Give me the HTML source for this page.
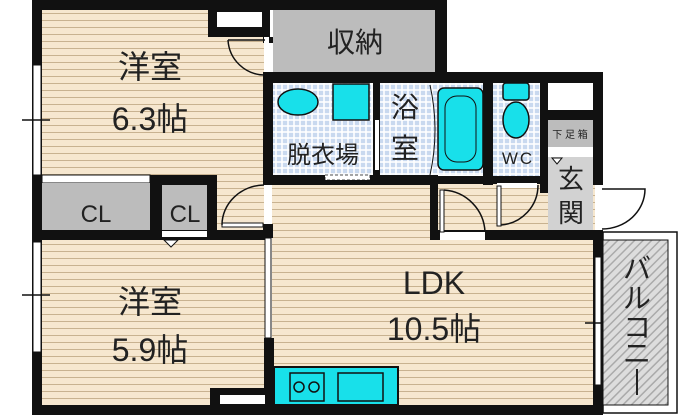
<!DOCTYPE html>
<html><head><meta charset="utf-8"><style>
html,body{margin:0;padding:0;background:#fff;width:700px;height:415px;overflow:hidden}
svg{display:block}
text{font-family:"Liberation Sans","Noto Sans CJK JP",sans-serif;fill:#222}
</style></head><body>
<svg width="700" height="415" viewBox="0 0 700 415" xmlns="http://www.w3.org/2000/svg">
<defs>
<pattern id="fl" width="8" height="7" patternUnits="userSpaceOnUse">
<rect width="8" height="7" fill="#f6e7cf"/><rect y="6" width="8" height="1.2" fill="#c8b290"/>
</pattern>
<pattern id="tl" width="6" height="6" patternUnits="userSpaceOnUse">
<rect width="6" height="6" fill="#fff"/><rect x="0.8" y="0.8" width="4.4" height="4.4" fill="#c9d9ef"/>
</pattern>
<pattern id="ht" width="6" height="6" patternUnits="userSpaceOnUse" patternTransform="rotate(45)">
<rect width="6" height="6" fill="#ddd"/><rect width="1.5" height="6" fill="#aaa"/>
</pattern>
</defs>
<rect x="42" y="10" width="222" height="222" fill="url(#fl)"/>
<rect x="42" y="240" width="223" height="167" fill="url(#fl)"/>
<rect x="272" y="183" width="323" height="224" fill="url(#fl)"/>
<rect x="32" y="0" width="415" height="10" fill="#111"/>
<rect x="32" y="0" width="10" height="415" fill="#111"/>
<rect x="32" y="405" width="571" height="10" fill="#111"/>
<rect x="33" y="65" width="8" height="110" fill="#fff" stroke="#111" stroke-width="1"/>
<rect x="33" y="242" width="8" height="110" fill="#fff" stroke="#111" stroke-width="1"/>
<line x1="22" y1="120" x2="50" y2="120" stroke="#111" stroke-width="1.5"/>
<line x1="22" y1="295" x2="50" y2="295" stroke="#111" stroke-width="1.5"/>
<rect x="208" y="10" width="62" height="27" fill="#111"/>
<rect x="217" y="12" width="45" height="15" fill="#fff"/>
<rect x="273" y="10" width="162" height="62" fill="#bcbcbc"/>
<rect x="435" y="0" width="12" height="83" fill="#111"/>
<text x="355" y="52" font-size="28" text-anchor="middle">収納</text>
<rect x="263" y="37" width="10" height="6" fill="#111"/>
<rect x="263" y="72" width="10" height="113" fill="#111"/>
<rect x="264" y="37" width="5" height="35" fill="#fff"/>
<path d="M228 40 L265 40 M228 40 A37 37 0 0 0 265 75" fill="none" stroke="#111" stroke-width="1.5"/>
<rect x="263" y="72" width="340" height="11" fill="#111"/>
<rect x="263" y="175" width="175" height="10" fill="#111"/>
<rect x="273" y="83" width="100" height="92" fill="url(#tl)"/>
<ellipse cx="298" cy="102" rx="20" ry="13" fill="#18e0ea" stroke="#111" stroke-width="1.5"/>
<rect x="333" y="84" width="36" height="36" fill="#18e0ea" stroke="#111" stroke-width="1.5"/>
<text x="323" y="163" font-size="24" text-anchor="middle">脱衣場</text>
<rect x="325" y="175" width="45" height="5" fill="#fff" stroke="#111" stroke-width="0.8" stroke-dasharray="3 2"/>
<rect x="373" y="83" width="7" height="92" fill="#111"/>
<rect x="375" y="120" width="4" height="50" fill="#fff"/>
<rect x="380" y="83" width="103" height="92" fill="url(#tl)"/>
<rect x="438" y="88" width="45" height="82" rx="6" fill="#18e0ea" stroke="#111" stroke-width="1.5"/>
<rect x="445" y="96" width="31" height="66" rx="12" fill="none" stroke="#111" stroke-width="1"/>
<path d="M430 85 Q440 130 430 175" fill="none" stroke="#111" stroke-width="1"/>
<text x="405" y="117" font-size="28" text-anchor="middle">浴</text>
<text x="405" y="158" font-size="28" text-anchor="middle">室</text>
<rect x="483" y="83" width="10" height="102" fill="#111"/>
<rect x="493" y="83" width="47" height="93" fill="url(#tl)"/>
<rect x="503" y="83" width="26" height="17" rx="3" fill="#18e0ea" stroke="#111" stroke-width="1.5"/>
<ellipse cx="516" cy="120" rx="13" ry="18" fill="#18e0ea" stroke="#111" stroke-width="1.5"/>
<text x="518" y="164" font-size="17" text-anchor="middle" letter-spacing="2">WC</text>
<rect x="540" y="83" width="8" height="110" fill="#111"/>
<rect x="548" y="83" width="45" height="27" fill="#fff"/>
<rect x="548" y="110" width="45" height="10" fill="#111"/>
<rect x="548" y="120" width="45" height="27" fill="#bcbcbc"/>
<text x="570" y="138" font-size="10" text-anchor="middle">下 足 箱</text>
<rect x="548" y="157" width="45" height="75" fill="#d2d2d2"/>
<path d="M552 158 L562 158 L557 164 Z" fill="#fff" stroke="#111" stroke-width="1"/>
<text x="571" y="188" font-size="26" text-anchor="middle">玄</text>
<text x="571" y="222" font-size="26" text-anchor="middle">関</text>
<rect x="593" y="72" width="10" height="113" fill="#111"/>
<path d="M602 189 L645 189 A43 40 0 0 1 602 229" fill="none" stroke="#111" stroke-width="1.5"/>
<rect x="430" y="175" width="8" height="65" fill="#111"/>
<rect x="438" y="176" width="102" height="8" fill="#111"/>
<rect x="430" y="230" width="173" height="10" fill="#111"/>
<rect x="440" y="232" width="45" height="8" fill="#fff"/>
<rect x="440" y="190" width="4" height="42" fill="#fff" stroke="#111" stroke-width="1"/>
<path d="M444 190 A44 44 0 0 1 485 232" fill="none" stroke="#111" stroke-width="1.5"/>
<rect x="497" y="183" width="40" height="5" fill="#fff"/>
<rect x="497" y="186" width="4" height="40" fill="#fff" stroke="#111" stroke-width="1"/>
<path d="M501 225 A40 40 0 0 0 538 185" fill="none" stroke="#111" stroke-width="1.5"/>
<rect x="42" y="175" width="108" height="8" fill="#fff" stroke="#111" stroke-width="1"/>
<rect x="42" y="183" width="108" height="48" fill="#bcbcbc"/>
<rect x="150" y="175" width="67" height="10" fill="#111"/>
<rect x="150" y="175" width="12" height="62" fill="#111"/>
<rect x="162" y="185" width="45" height="45" fill="#bcbcbc"/>
<rect x="207" y="175" width="10" height="62" fill="#111"/>
<rect x="42" y="230" width="223" height="10" fill="#111"/>
<rect x="162" y="231" width="45" height="6" fill="#fff"/>
<path d="M164 240 L178 240 L171 247 Z" fill="#fff" stroke="#111" stroke-width="1"/>
<text x="96" y="222" font-size="24" text-anchor="middle">CL</text>
<text x="185" y="222" font-size="24" text-anchor="middle">CL</text>
<rect x="222" y="223" width="41" height="4" fill="#fff" stroke="#111" stroke-width="1"/>
<path d="M222 225 A43 40 0 0 1 264 185" fill="none" stroke="#111" stroke-width="1.5"/>
<rect x="264" y="185" width="3" height="40" fill="#fff"/>
<rect x="263" y="224" width="10" height="14" fill="#111"/>
<rect x="265" y="238" width="6" height="100" fill="#fff" stroke="#111" stroke-width="1"/>
<rect x="264" y="338" width="10" height="70" fill="#111"/>
<rect x="210" y="388" width="55" height="17" fill="#111"/>
<rect x="220" y="395" width="45" height="9" fill="#fff"/>
<rect x="274" y="367" width="124" height="38" fill="#18e0ea" stroke="#111" stroke-width="2"/>
<rect x="290" y="373" width="34" height="28" fill="none" stroke="#111" stroke-width="1.5"/>
<circle cx="299" cy="387" r="5" fill="none" stroke="#111" stroke-width="1.5"/>
<circle cx="314" cy="387" r="5" fill="none" stroke="#111" stroke-width="1.5"/>
<rect x="338" y="373" width="45" height="28" fill="none" stroke="#111" stroke-width="1.5"/>
<rect x="593" y="232" width="10" height="183" fill="#111"/>
<rect x="595" y="257" width="6" height="128" fill="#fff" stroke="#111" stroke-width="1"/>
<line x1="585" y1="323" x2="613" y2="323" stroke="#111" stroke-width="1.5"/>
<rect x="603" y="232" width="74" height="181" fill="#fff" stroke="#111" stroke-width="1.5"/>
<rect x="603" y="240" width="65" height="165" fill="url(#ht)" stroke="#111" stroke-width="1"/>
<text x="637" y="278" font-size="28" text-anchor="middle">バ</text>
<text x="637" y="308" font-size="28" text-anchor="middle">ル</text>
<text x="637" y="337" font-size="28" text-anchor="middle">コ</text>
<text x="637" y="363" font-size="28" text-anchor="middle">ニ</text>
<line x1="637" y1="369" x2="637" y2="395" stroke="#222" stroke-width="2"/>
<text x="150" y="78" font-size="32" text-anchor="middle">洋室</text>
<text x="150" y="130" font-size="32" text-anchor="middle">6.3帖</text>
<text x="150" y="313" font-size="32" text-anchor="middle">洋室</text>
<text x="150" y="361" font-size="32" text-anchor="middle">5.9帖</text>
<text x="434" y="294" font-size="32" text-anchor="middle">LDK</text>
<text x="434" y="340" font-size="32" text-anchor="middle">10.5帖</text>
</svg>
</body></html>
